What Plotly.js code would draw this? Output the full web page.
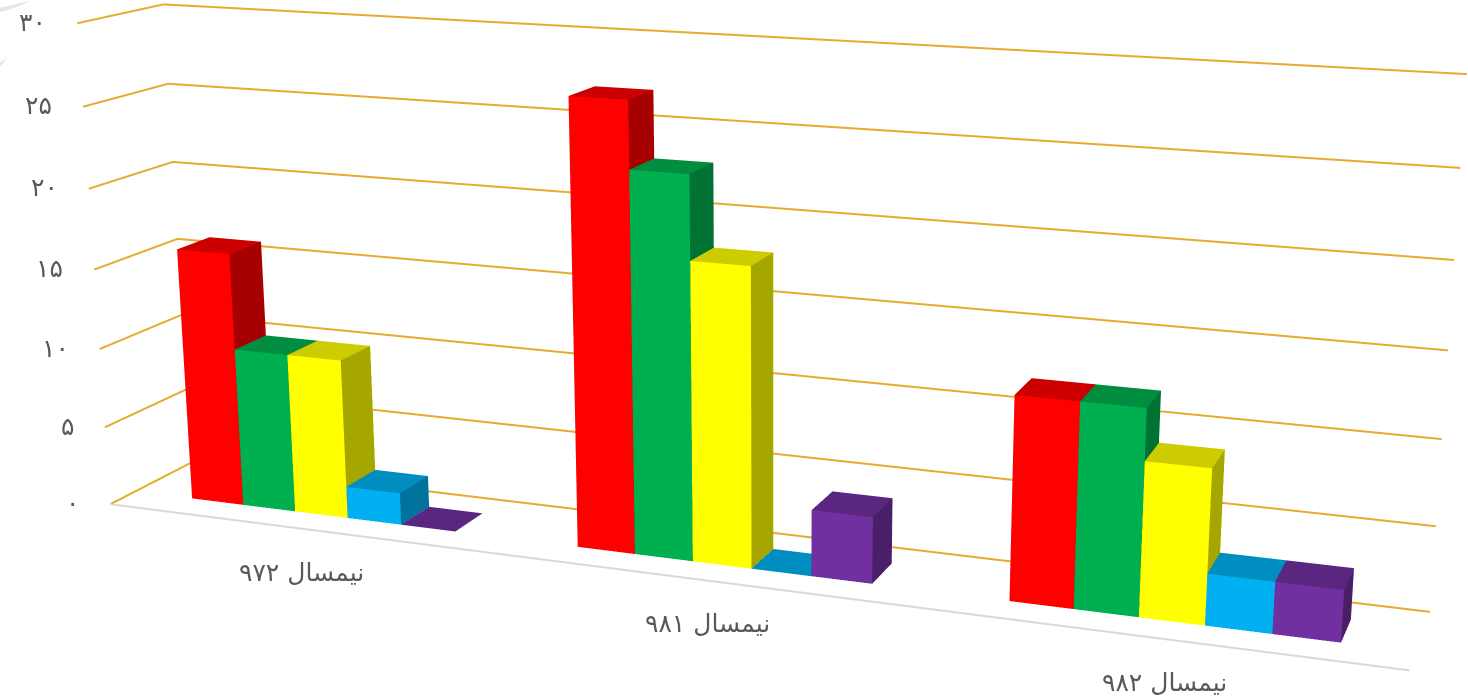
<!DOCTYPE html>
<html><head><meta charset="utf-8"><script src="https://cdn.plot.ly/plotly-3.0.1.min.js"></script>
<style>html,body{margin:0;background:#fff;overflow:hidden;width:1468px;height:699px}#c{position:absolute;left:-2.52px;top:-736.49px}</style></head><body><div id="c"></div>
<script>
const categories=['نیمسال ۹۷۲','نیمسال ۹۸۱','نیمسال ۹۸۲'];
const seriesRed=[16,27,12];
const seriesGreen=[10,23,12];
const seriesYellow=[10,18,9];
const seriesBlue=[2,0,3];
const seriesPurple=[0,4,3];
const tickValues=[0,5,10,15,20,25,30];
const tickLabels=['۰','۵','۱۰','۱۵','۲۰','۲۵','۳۰'];
const Wp=1586,Hp=2155,L=-2.52,T=-736.49;
const G=2.2,barW=1/(5+G),Y0=.3,Y1=.7,X0=.004;
function box(vals,k,c,ct,cs,name){const x=[],y=[],z=[],i=[],j=[],kk=[],fc=[];vals.forEach((v,n)=>{const a=n+X0+(G/2+k)*barW,e=a+barW,o=x.length;
 [[a,Y0,0],[e,Y0,0],[e,Y1,0],[a,Y1,0],[a,Y0,v],[e,Y0,v],[e,Y1,v],[a,Y1,v]].forEach(p=>{x.push(p[0]);y.push(p[1]);z.push(p[2])});
 [[0,1,5,c],[0,5,4,c],[4,5,6,ct],[4,6,7,ct],[1,2,6,cs],[1,6,5,cs],[0,4,7,cs],[0,7,3,cs],[3,7,6,c],[3,6,2,c]].forEach(t=>{i.push(o+t[0]);j.push(o+t[1]);kk.push(o+t[2]);fc.push(t[3])})});
 return {type:'mesh3d',name,x,y,z,i,j,k:kk,facecolor:fc,flatshading:true,hoverinfo:'skip',lighting:{ambient:1,diffuse:0,specular:0,roughness:1,fresnel:0},lightposition:{x:0,y:0,z:0}}}
const traces=[box(seriesRed,0,'#ff0000','#cc0000','#a60000','Red'),box(seriesGreen,1,'#00b050','#008d40','#007234','Green'),box(seriesYellow,2,'#ffff00','#cccc00','#a6a600','Yellow'),box(seriesBlue,3,'#00b0f0','#008dc0','#00729c','Blue'),box(seriesPurple,4,'#7030a0','#5a2680','#491f68','Purple')];
tickValues.forEach(t=>traces.push({type:'scatter3d',mode:'lines',x:[0,0,3],y:[0,1,1],z:[t,t,t],line:{color:'#e6ac2e',width:4},hoverinfo:'skip'}));
traces.push({type:'scatter3d',mode:'lines',x:[0,3],y:[0,0],z:[0,0],line:{color:'#d9d9d9',width:4},hoverinfo:'skip'});
const ann=[];const tf={family:'DejaVu Sans',size:25,color:'#595959'};
tickValues.forEach((t,n)=>ann.push({x:0,y:0,z:t,text:tickLabels[n],showarrow:false,xanchor:'right',xshift:-29,yshift:1,font:tf}));
categories.forEach((c,n)=>ann.push({x:n+.5,y:0,z:0,text:c,showarrow:false,xshift:5,yshift:-44,font:tf}));
const sx=v=>(v-L)/Wp,sy=v=>1-(v-T)/Hp;
const curve=(a,b,c,d,e,f,g,h)=>`M${sx(a)},${sy(b)} Q${sx(c)},${sy(d)} ${sx(e)},${sy(f)} Q${sx(c)},${sy(h)} ${sx(a)},${sy(g)} Z`;
const shapes=[{type:'path',xref:'paper',yref:'paper',path:curve(0,7,16,4,32,0,12,8),fillcolor:'#e8e8e0',line:{width:0}},{type:'path',xref:'paper',yref:'paper',path:curve(0,62,4,60,7,57,66,64),fillcolor:'#e8e8e0',line:{width:0}}];
const hide={visible:false,showgrid:false,zeroline:false,showspikes:false};
Plotly.newPlot('c',traces,{width:Wp,height:Hp,showlegend:false,paper_bgcolor:'#fff',margin:{l:0,r:0,t:0,b:0},shapes,scene:{domain:{x:[0,1],y:[0,1]},aspectmode:'manual',aspectratio:{x:1,y:.1149,z:.37782},xaxis:{...hide,range:[0,3]},yaxis:{...hide,range:[0,1]},zaxis:{...hide,range:[0,30]},annotations:ann,camera:{eye:{x:.66075,y:-1.69883,z:.45758},center:{x:.0457,y:0,z:-.02117},up:{x:.16711,y:-.46548,z:1},projection:{type:'perspective'}}}},{displayModeBar:false});
</script></body></html>
